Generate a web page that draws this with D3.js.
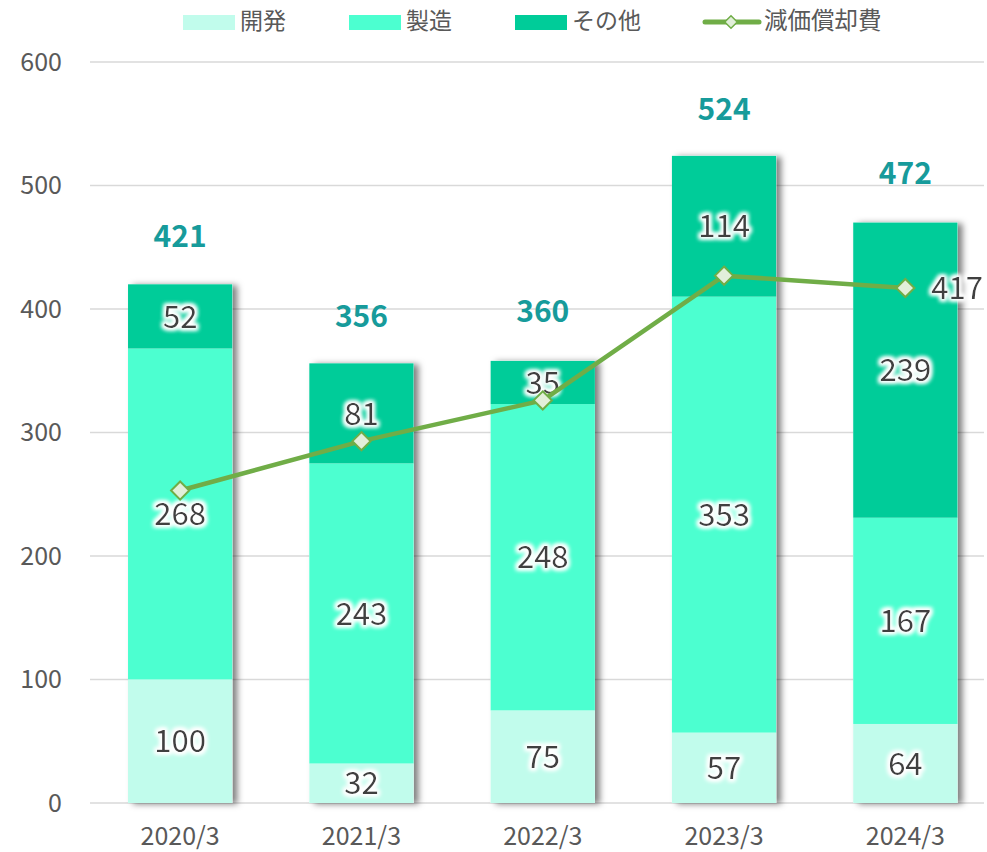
<!DOCTYPE html>
<html>
  <head>
    <meta charset="utf-8">
    <script src="https://d3js.org/d3.v7.min.js"></script>
    <style>
      body { margin: 0; background: #fff; }
      text { font-family: "Noto Sans CJK JP", "Noto Sans", sans-serif; }
    </style>
  </head>
  <body>
    <div id="container"></div>

    <script type="text/javascript">
      // data
      var years = ["2020/3", "2021/3", "2022/3", "2023/3", "2024/3"];
      var kaihatsu = [100, 32, 75, 57, 64];
      var seizou = [268, 243, 248, 353, 167];
      var sonota = [52, 81, 35, 114, 239];
      var totals = [421, 356, 360, 524, 472];
      var genka = [253, 293, 326, 427, 417];
      var yTicks = [0, 100, 200, 300, 400, 500, 600];

      var seriesNames = ["開発", "製造", "その他"];
      var colors = ["#c1fcec", "#4cffd0", "#00cc99"];
      var lineColor = "#70ad47";

      var width = 987,
          height = 852;

      var svg = d3.select("#container").append("svg")
        .attr("width", width)
        .attr("height", height);

      var defs = svg.append("defs");
      var shadow = defs.append("filter").attr("id", "shadow")
        .attr("x", "-10%").attr("y", "-10%").attr("width", "130%").attr("height", "120%");
      shadow.append("feDropShadow")
        .attr("dx", 5).attr("dy", 1).attr("stdDeviation", 3)
        .attr("flood-color", "#000").attr("flood-opacity", 0.5);

      var glow = defs.append("filter").attr("id", "glow")
        .attr("x", "-30%").attr("y", "-30%").attr("width", "160%").attr("height", "160%");
      glow.append("feMorphology").attr("in", "SourceAlpha").attr("operator", "dilate")
        .attr("radius", 2).attr("result", "d");
      glow.append("feGaussianBlur").attr("in", "d").attr("stdDeviation", 2).attr("result", "b");
      glow.append("feFlood").attr("flood-color", "#fff").attr("result", "w");
      glow.append("feComposite").attr("in", "w").attr("in2", "b").attr("operator", "in").attr("result", "g");
      var merge = glow.append("feMerge");
      merge.append("feMergeNode").attr("in", "g");
      merge.append("feMergeNode").attr("in", "g");
      merge.append("feMergeNode").attr("in", "SourceGraphic");

      var x = d3.scaleBand()
        .domain(years)
        .range([89.5, 996])
        .paddingInner(0.425)
        .paddingOuter(0.2125);

      var y = d3.scaleLinear()
        .domain([0, 600])
        .range([803, 62]);

      // gridlines
      svg.append("g").selectAll("line")
        .data(yTicks)
        .enter().append("line")
          .attr("x1", 90).attr("x2", 984)
          .attr("y1", function(d) { return y(d); })
          .attr("y2", function(d) { return y(d); })
          .style("stroke", "#d9d9d9")
          .style("stroke-width", 1.5);

      // y tick labels
      svg.append("g").selectAll("text")
        .data(yTicks)
        .enter().append("text")
          .attr("x", 62)
          .attr("y", function(d) { return y(d); })
          .attr("dy", "0.35em")
          .attr("text-anchor", "end")
          .style("font-size", "25px")
          .style("fill", "#595959")
          .text(function(d) { return d; });

      // x labels
      svg.append("g").selectAll("text")
        .data(years)
        .enter().append("text")
          .attr("x", function(d) { return x(d) + x.bandwidth() / 2; })
          .attr("y", 836)
          .attr("dy", "0.35em")
          .attr("text-anchor", "middle")
          .style("font-size", "25px")
          .style("fill", "#595959")
          .text(function(d) { return d; });

      // stacked bars
      var table = years.map(function(d, i) {
        return { year: d, "開発": kaihatsu[i], "製造": seizou[i], "その他": sonota[i] };
      });
      var stacked = d3.stack().keys(seriesNames)(table);

      var barG = svg.append("g");
      years.forEach(function(yr, i) {
        var top = stacked[2][i][1];
        barG.append("rect")
          .attr("x", x(yr))
          .attr("y", y(top))
          .attr("width", x.bandwidth())
          .attr("height", y(0) - y(top))
          .style("fill", "#fff")
          .attr("filter", "url(#shadow)");
      });

      stacked.forEach(function(layer, k) {
        barG.append("g").selectAll("rect")
          .data(layer)
          .enter().append("rect")
            .attr("x", function(d) { return x(d.data.year); })
            .attr("y", function(d) { return y(d[1]); })
            .attr("width", x.bandwidth())
            .attr("height", function(d) { return y(d[0]) - y(d[1]); })
            .style("fill", colors[k]);
      });

      // segment labels
      var labelG = svg.append("g");
      stacked.forEach(function(layer) {
        labelG.append("g").selectAll("text")
          .data(layer)
          .enter().append("text")
            .attr("x", function(d) { return x(d.data.year) + x.bandwidth() / 2; })
            .attr("y", function(d) { return y((d[0] + d[1]) / 2); })
            .attr("dy", "0.36em")
            .attr("text-anchor", "middle")
            .attr("filter", "url(#glow)")
            .style("font-size", "31px")
            .style("fill", "#404040")
            .text(function(d) { return d[1] - d[0]; });
      });

      // totals
      svg.append("g").selectAll("text")
        .data(years)
        .enter().append("text")
          .attr("x", function(d) { return x(d) + x.bandwidth() / 2; })
          .attr("y", function(d, i) { return y(totals[i]) - 47; })
          .attr("dy", "0.36em")
          .attr("text-anchor", "middle")
          .style("font-size", "30px")
          .style("font-weight", "bold")
          .style("fill", "#179b9b")
          .text(function(d, i) { return totals[i]; });

      // depreciation line
      var line = d3.line()
        .x(function(d, i) { return x(years[i]) + x.bandwidth() / 2; })
        .y(function(d) { return y(d); });

      svg.append("path")
        .datum(genka)
        .attr("d", line)
        .style("fill", "none")
        .style("stroke", lineColor)
        .style("stroke-width", 4.5)
        .style("stroke-linejoin", "round");

      var diamond = d3.symbol().type(d3.symbolDiamond2).size(210);
      svg.append("g").selectAll("path")
        .data(genka)
        .enter().append("path")
          .attr("d", diamond)
          .attr("transform", function(d, i) {
            return "translate(" + (x(years[i]) + x.bandwidth() / 2) + "," + y(d) + ")";
          })
          .style("fill", "#e2efda")
          .style("stroke", lineColor)
          .style("stroke-width", 2);

      // only the last point carries a label
      var last = genka.length - 1;
      svg.append("text")
        .attr("x", x(years[last]) + x.bandwidth() / 2 + 26)
        .attr("y", y(genka[last]))
        .attr("dy", "0.36em")
        .attr("filter", "url(#glow)")
        .style("font-size", "31px")
        .style("fill", "#404040")
        .text(genka[last]);

      // legend
      var legend = svg.append("g");
      var legendX = [183, 349, 515];
      seriesNames.forEach(function(name, k) {
        legend.append("rect")
          .attr("x", legendX[k]).attr("y", 15)
          .attr("width", 52).attr("height", 15)
          .style("fill", colors[k]);
        legend.append("text")
          .attr("x", legendX[k] + 57).attr("y", 21)
          .attr("dy", "0.36em")
          .style("font-size", "23px")
          .style("fill", "#595959")
          .text(name);
      });
      legend.append("line")
        .attr("x1", 705).attr("x2", 759).attr("y1", 22).attr("y2", 22)
        .style("stroke", lineColor).style("stroke-width", 5)
        .style("stroke-linecap", "round");
      legend.append("path")
        .attr("d", d3.symbol().type(d3.symbolDiamond2).size(100))
        .attr("transform", "translate(731,22)")
        .style("fill", "#e2efda")
        .style("stroke", lineColor)
        .style("stroke-width", 1.5);
      legend.append("text")
        .attr("x", 764).attr("y", 21)
        .attr("dy", "0.36em")
        .style("font-size", "23.5px")
        .style("fill", "#595959")
        .text("減価償却費");
    </script>
  </body>
</html>
